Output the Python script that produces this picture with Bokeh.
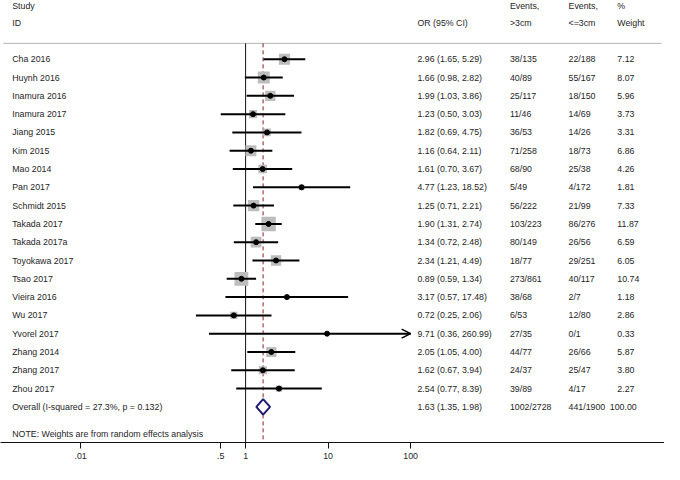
import numpy as np
from bokeh.plotting import figure
from bokeh.models import Range1d, FixedTicker, ColumnDataSource, Arrow, OpenHead
from bokeh.core.properties import value
from bokeh.embed import file_html
from bokeh.resources import INLINE

# ---------------- data ----------------
studies = ["Cha 2016", "Huynh 2016", "Inamura 2016", "Inamura 2017", "Jiang 2015",
           "Kim 2015", "Mao 2014", "Pan 2017", "Schmidt 2015", "Takada 2017",
           "Takada 2017a", "Toyokawa 2017", "Tsao 2017", "Vieira 2016", "Wu 2017",
           "Yvorel 2017", "Zhang 2014", "Zhang 2017", "Zhou 2017"]
or_est = [2.96, 1.66, 1.99, 1.23, 1.82, 1.16, 1.61, 4.77, 1.25, 1.90,
          1.34, 2.34, 0.89, 3.17, 0.72, 9.71, 2.05, 1.62, 2.54]
ci_lo = [1.65, 0.98, 1.03, 0.50, 0.69, 0.64, 0.70, 1.23, 0.71, 1.31,
         0.72, 1.21, 0.59, 0.57, 0.25, 0.36, 1.05, 0.67, 0.77]
ci_hi = [5.29, 2.82, 3.86, 3.03, 4.75, 2.11, 3.67, 18.52, 2.21, 2.74,
         2.48, 4.49, 1.34, 17.48, 2.06, 260.99, 4.00, 3.94, 8.39]
events_gt3 = ["38/135", "40/89", "25/117", "11/46", "36/53", "71/258", "68/90", "5/49",
              "56/222", "103/223", "80/149", "18/77", "273/861", "38/68", "6/53", "27/35",
              "44/77", "24/37", "39/89"]
events_le3 = ["22/188", "55/167", "18/150", "14/69", "14/26", "18/73", "25/38", "4/172",
              "21/99", "86/276", "26/56", "29/251", "40/117", "2/7", "12/80", "0/1",
              "26/66", "25/47", "4/17"]
weights = [7.12, 8.07, 5.96, 3.73, 3.31, 6.86, 4.26, 1.81, 7.33, 11.87,
           6.59, 6.05, 10.74, 1.18, 2.86, 0.33, 5.87, 3.80, 2.27]

overall_est, overall_lo, overall_hi = 1.63, 1.35, 1.98
overall_gt3, overall_le3, overall_weight = "1002/2728", "441/1900", 100.00
i_squared, p_het = 27.3, 0.132

tick_vals = [0.01, 0.5, 1, 10, 100]
tick_labels = [".01", ".5", "1", "10", "100"]

header_line1 = ["Study", "", "Events,", "Events,", "%"]
header_line2 = ["ID", "OR (95% CI)", ">3cm", "<=3cm", "Weight"]
note_text = "NOTE: Weights are from random effects analysis"

# ---------------- layout helpers (reference pixel -> data) ----------------
X1_REF, DEC_REF = 251.0, 84.5
ROW0_REF, ROW_STEP = 61.0, 19.0


def xd(px):
    return 10 ** ((px - X1_REF) / DEC_REF)


def yd(py):
    return (py - ROW0_REF) / ROW_STEP


FONT = value("Liberation Sans")
FS = value("8.8px")
TXT = "#1e1e1e"

n = len(studies)
rows = list(range(n))
r_overall = n
xmax = max(tick_vals)
xmin = min(tick_vals)

p = figure(width=664, height=464, x_axis_type="log",
           x_range=Range1d(xd(0), xd(680)), y_range=Range1d(yd(459), yd(0)),
           output_backend="svg", toolbar_location=None, y_axis_location=None,
           min_border_left=0, min_border_right=0, min_border_top=0, min_border_bottom=22)
p.outline_line_color = None
p.grid.visible = False
p.background_fill_color = "white"

ax = p.xaxis[0]
ax.ticker = FixedTicker(ticks=tick_vals)
ax.major_label_overrides = {float(v): l for v, l in zip(tick_vals, tick_labels)}
ax.minor_tick_line_color = None
ax.major_tick_in = 0
ax.major_tick_out = 6
ax.major_label_standoff = 4
ax.axis_line_color = "#111111"
ax.major_tick_line_color = "#111111"
ax.major_label_text_font = "Liberation Sans"
ax.major_label_text_font_size = "8.8px"
ax.major_label_text_color = TXT

# header separator
sep_y = yd(44.5)
p.segment(x0=[xd(3)], y0=[sep_y], x1=[xd(677)], y1=[sep_y], line_color="#b4b4b4", line_width=1)

# null line and overall dashed line
p.segment(x0=[1], y0=[sep_y], x1=[1], y1=[yd(459)], line_color="#111111", line_width=1)
p.segment(x0=[overall_est], y0=[sep_y], x1=[overall_est], y1=[yd(459)],
          line_color="#8b1e1e", line_width=1, line_dash="4 3")

# study rows
src = ColumnDataSource(dict(
    y=rows, est=or_est, lo=[max(v, xmin) for v in ci_lo], hi=[min(v, xmax) for v in ci_hi],
    size=[4.2 * np.sqrt(w) for w in weights],
))
p.scatter(x="est", y="y", size="size", marker="square", source=src,
          fill_color="#bdbdbd", line_color=None)
p.segment(x0="lo", y0="y", x1="hi", y1="y", source=src, line_color="black", line_width=2)
p.scatter(x="est", y="y", size=5, marker="circle", source=src,
          fill_color="black", line_color="black")

# arrows for truncated CIs
for i in range(n):
    if ci_hi[i] > xmax:
        p.add_layout(Arrow(x_start=or_est[i], y_start=rows[i], x_end=xmax, y_end=rows[i],
                           line_width=0.01, line_alpha=0,
                           end=OpenHead(size=9, line_width=1.5, line_color="black")))

# overall diamond
h = 0.42
p.patch(x=[overall_lo, overall_est, overall_hi, overall_est],
        y=[r_overall, r_overall - h, r_overall, r_overall + h],
        fill_color="white", line_color="#1c1c72", line_width=2)

# text columns
col_x = [12, 427, 521.7, 581.7, 631.7]
or_text = [f"{e:.2f} ({l:.2f}, {u:.2f})" for e, l, u in zip(or_est, ci_lo, ci_hi)]
w_text = [f"{w:.2f}" for w in weights]

tsrc = ColumnDataSource(dict(y=rows, study=studies, ort=or_text, g=events_gt3,
                             l=events_le3, w=w_text))
for cx, field in zip(col_x, ["study", "ort", "g", "l", "w"]):
    p.text(x=xd(cx), y="y", text=field, source=tsrc, text_font=FONT, text_font_size=FS,
           text_color=TXT, text_baseline="middle", text_align="left")

overall_label = f"Overall  (I-squared = {i_squared:.1f}%, p = {p_het:.3f})"
overall_vals = [overall_label, f"{overall_est:.2f} ({overall_lo:.2f}, {overall_hi:.2f})",
                overall_gt3, overall_le3, f"{overall_weight:.2f}"]
overall_x = [12, 427, 521.7, 581.7, 624]
p.text(x=[xd(v) for v in overall_x], y=[r_overall] * 5, text=overall_vals,
       text_font=FONT, text_font_size=FS, text_color=TXT, text_baseline="middle")

# headers
p.text(x=[xd(v) for v in col_x], y=[yd(5.5)] * 5, text=header_line1,
       text_font=FONT, text_font_size=FS, text_color=TXT, text_baseline="middle")
p.text(x=[xd(v) for v in col_x], y=[yd(23.5)] * 5, text=header_line2,
       text_font=FONT, text_font_size=FS, text_color=TXT, text_baseline="middle")

# note
p.text(x=[xd(12)], y=[yd(450)], text=[note_text], text_font=FONT, text_font_size=FS,
       text_color=TXT, text_baseline="middle")

open("out.html", "w").write(file_html(p, INLINE))
